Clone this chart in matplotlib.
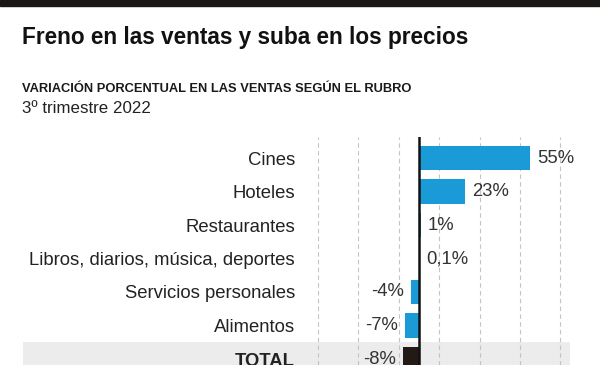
import matplotlib
matplotlib.use("Agg")
import matplotlib.pyplot as plt
from matplotlib.patches import Rectangle
from matplotlib.transforms import blended_transform_factory
from matplotlib import font_manager

categories = ["Cines", "Hoteles", "Restaurantes", "Libros, diarios, música, deportes",
              "Servicios personales", "Alimentos", "TOTAL"]
values = [55, 23, 1, 0.1, -4, -7, -8]
value_labels = ["55%", "23%", "1%", "0,1%", "-4%", "-7%", "-8%"]
grid_ticks = [-50, -30, -10, 10, 30, 50, 70]

title = "Freno en las ventas y suba en los precios"
subtitle = "VARIACIÓN PORCENTUAL EN LAS VENTAS SEGÚN EL RUBRO"
period = "3º trimestre 2022"

names = {f.name for f in font_manager.fontManager.ttflist}
narrow = "Liberation Sans Narrow" if "Liberation Sans Narrow" in names else "Liberation Sans"
plt.rcParams['font.family'] = ['Liberation Sans', 'DejaVu Sans']

W, H = 600, 365
fig = plt.figure(figsize=(6, 3.65), dpi=100)

def fx(px):
    return px / W

def fy(py):
    return 1 - py / H

# top black band
fig.patches.append(Rectangle((0, fy(6)), 1, 6 / H, transform=fig.transFigure,
                             color="#1b1714", zorder=0))

fig.text(fx(22), fy(44), title, fontsize=16.3, fontweight="bold", family=[narrow, 'DejaVu Sans'],
         color="#111111", va="baseline", ha="left")
fig.text(fx(22), fy(92), subtitle, fontsize=9.3, fontweight="bold", family=[narrow, 'DejaVu Sans'],
         color="#1a1a1a", va="baseline", ha="left")
fig.text(fx(22), fy(113), period, fontsize=12.2, family=['Liberation Sans', 'DejaVu Sans'],
         color="#222222", va="baseline", ha="left")

# axes: left px 300 -> right px 580, top px 137 -> bottom px 365
ax = fig.add_axes([fx(300), 0, fx(280), fy(137)])
scale = 2.02
x0px = 419
ax.set_xlim((300 - x0px) / scale, (580 - x0px) / scale)
ax.set_ylim((365 - 158) / 33.5, (137 - 158) / 33.5)

for s in ax.spines.values():
    s.set_visible(False)
ax.set_xticks([])

n = len(categories)
ax.set_yticks(range(n))
ax.set_yticklabels(categories, fontsize=13.3, color="#222222")
ax.tick_params(axis="y", length=0, pad=3.6)
for lbl in ax.get_yticklabels():
    if lbl.get_text() == "TOTAL":
        lbl.set_fontweight("bold")

# grey band behind TOTAL row
tr = blended_transform_factory(fig.transFigure, ax.transData)
ax.add_patch(Rectangle((fx(23), n - 1.5), fx(570) - fx(23), 1.0, transform=tr,
                       facecolor="#ececec", edgecolor="none", clip_on=False, zorder=0))

for g in grid_ticks:
    ax.axvline(g, color="#c4c4c4", lw=0.8, ls=(0, (4, 3)), zorder=1)

colors = ["#1a9ad6"] * (n - 1) + ["#231a16"]
ax.barh(range(n), values, height=0.72, color=colors, zorder=2)
ax.axvline(0, color="#111111", lw=1.8, zorder=3)

for i, (v, t) in enumerate(zip(values, value_labels)):
    if v >= 0:
        ax.annotate(t, (v, i), xytext=(5, 0), textcoords="offset points",
                    ha="left", va="center", fontsize=13.3, color="#333333", zorder=4)
    else:
        ax.annotate(t, (v, i), xytext=(-5, 0), textcoords="offset points",
                    ha="right", va="center", fontsize=13.3, color="#333333", zorder=4)

fig.savefig("out.png", dpi=100, facecolor="white")
